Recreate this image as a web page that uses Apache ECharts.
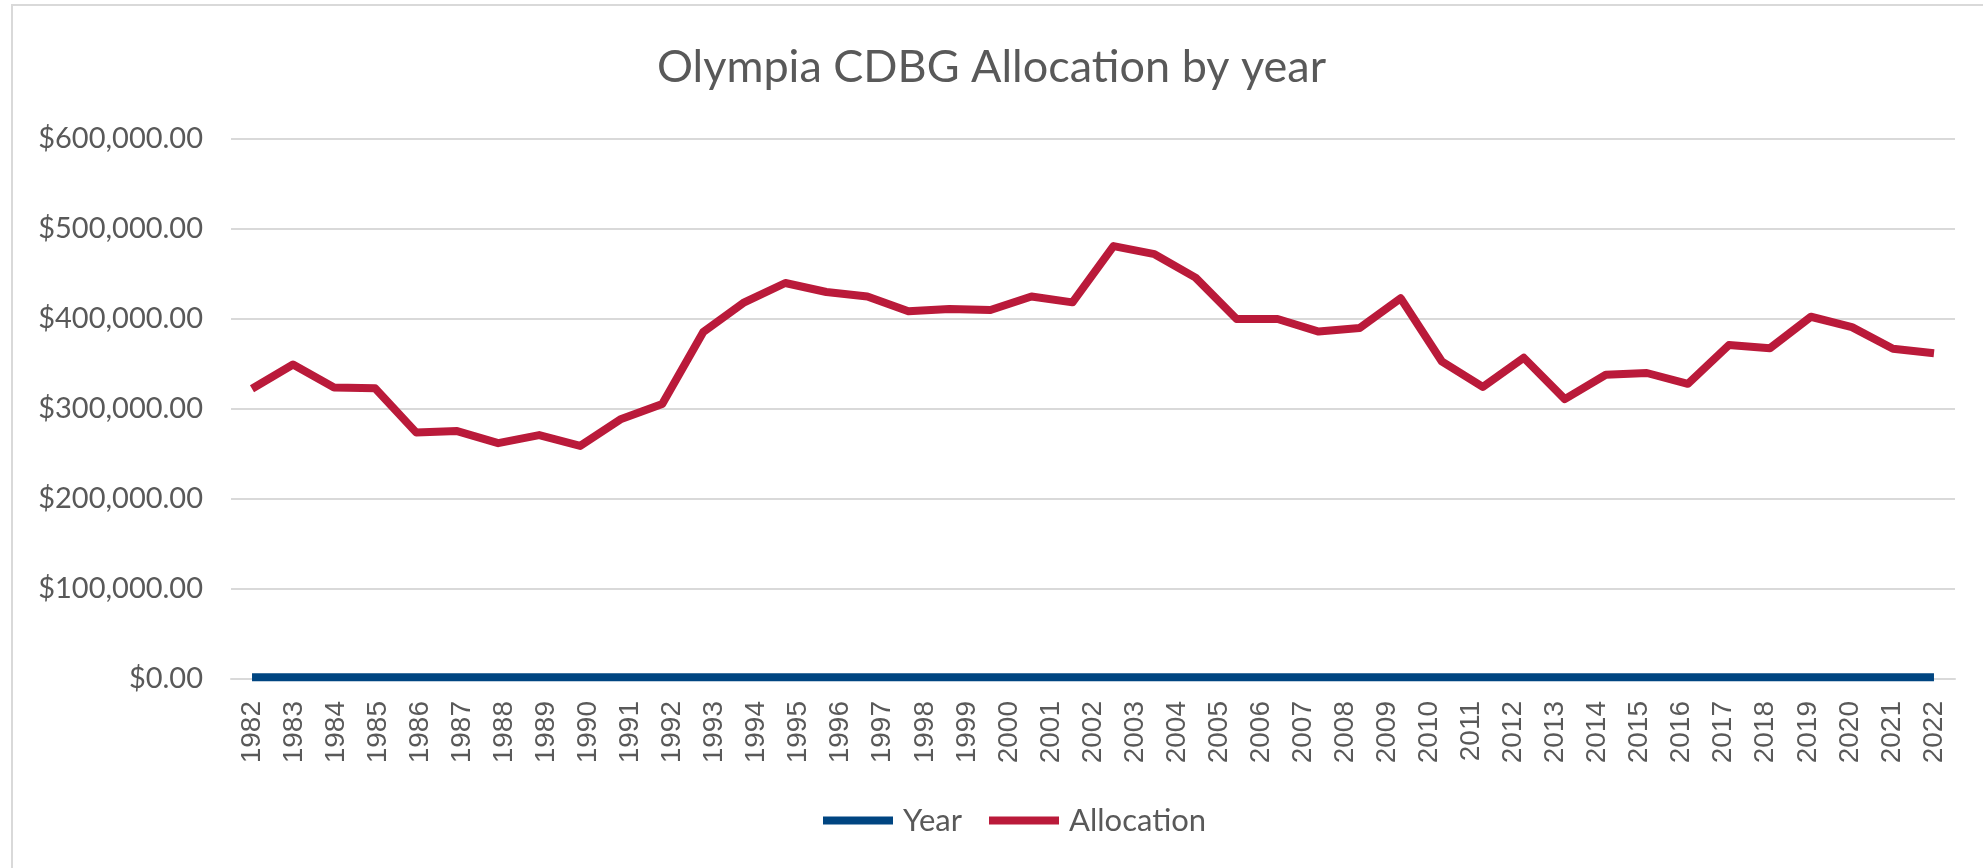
<!DOCTYPE html>
<html>
<head>
<meta charset="utf-8">
<title>Olympia CDBG Allocation by year</title>
<script src="https://cdn.jsdelivr.net/npm/echarts@6/dist/echarts.min.js"></script>
<style>
  html, body { margin: 0; padding: 0; background: #fff; }
  #main { width: 1983px; height: 868px; }
</style>
</head>
<body>
<div id="main"></div>
<script>
// categories on the x axis
const years = [
  1982, 1983, 1984, 1985, 1986, 1987, 1988, 1989, 1990, 1991,
  1992, 1993, 1994, 1995, 1996, 1997, 1998, 1999, 2000, 2001,
  2002, 2003, 2004, 2005, 2006, 2007, 2008, 2009, 2010, 2011,
  2012, 2013, 2014, 2015, 2016, 2017, 2018, 2019, 2020, 2021, 2022
];

// "Year" series: the year itself plotted as a value (sits on $0 at this scale)
const yearValues = years.slice();

// "Allocation" series, dollars.
// In the picture this line has 42 vertices spread evenly from the first
// to the last year position, so it runs on its own hidden category axis.
const allocation = [
  322500, 349500, 324000, 323000, 274000, 275500, 262000, 271000, 259000, 289000,
  305500, 385500, 418500, 440000, 430000, 425000, 408500, 411000, 410000, 425000,
  418500, 481000, 472000, 446000, 400000, 400000, 386000, 390000, 423000, 353000,
  324500, 357000, 311000, 338000, 340000, 328000, 371000, 367500, 402500, 391000,
  367000, 362000
];
const allocationSlots = allocation.map(function (v, i) { return String(i + 1); });

// y axis ticks
const yTicks = [0, 100000, 200000, 300000, 400000, 500000, 600000];

const textGrey = '#595959';
const gridGrey = '#D9D9D9';

function money (v) {
  return '$' + v.toLocaleString('en-US', { minimumFractionDigits: 2, maximumFractionDigits: 2 });
}

const chart = echarts.init(document.getElementById('main'));

const option = {
  backgroundColor: '#fff',
  animation: false,
  graphic: [
    {
      // chart-area border (only top and left fall inside the picture)
      type: 'rect',
      shape: { x: 12, y: 5, width: 2100, height: 1000 },
      style: { fill: 'none', stroke: gridGrey, lineWidth: 2 },
      silent: true
    }
  ],
  title: {
    text: 'Olympia CDBG Allocation by year',
    left: 'center',
    top: 40,
    textStyle: {
      fontFamily: 'Lato',
      fontWeight: 'normal',
      fontSize: 45,
      color: textGrey
    }
  },
  legend: {
    data: ['Year', 'Allocation'],
    bottom: 27,
    left: 818,
    icon: 'rect',
    itemWidth: 70,
    itemHeight: 8,
    itemGap: 27,
    textStyle: {
      fontFamily: 'Lato',
      fontSize: 31,
      color: textGrey,
      padding: [0, 0, 0, 5]
    }
  },
  grid: [
    { left: 231, right: 28, top: 139, bottom: 189, containLabel: false },
    // same plot band, but from the first to the last year position
    { left: 252, right: 49, top: 139, bottom: 189, containLabel: false }
  ],
  xAxis: [
    {
      type: 'category',
      gridIndex: 0,
      data: years,
      boundaryGap: true,
      axisLine: { show: true, lineStyle: { color: gridGrey, width: 2 } },
      axisTick: { show: false },
      axisLabel: {
        interval: 0,
        rotate: 90,
        margin: 22,
        fontFamily: 'Liberation Sans',
        fontSize: 28,
        color: textGrey
      },
      splitLine: { show: false }
    },
    {
      type: 'category',
      gridIndex: 1,
      data: allocationSlots,
      boundaryGap: false,
      show: false
    }
  ],
  yAxis: [
    {
      type: 'value',
      gridIndex: 0,
      min: yTicks[0],
      max: yTicks[yTicks.length - 1],
      interval: 100000,
      axisLine: { show: false },
      axisTick: { show: false },
      axisLabel: {
        margin: 28,
        fontFamily: 'Lato',
        fontSize: 29,
        color: textGrey,
        formatter: money
      },
      splitLine: { show: true, lineStyle: { color: gridGrey, width: 2 } }
    },
    {
      type: 'value',
      gridIndex: 1,
      min: yTicks[0],
      max: yTicks[yTicks.length - 1],
      interval: 100000,
      show: false,
      splitLine: { show: false }
    }
  ],
  series: [
    {
      name: 'Year',
      type: 'line',
      xAxisIndex: 0,
      yAxisIndex: 0,
      data: yearValues,
      symbol: 'none',
      lineStyle: { color: '#004581', width: 8, cap: 'butt', join: 'round' },
      itemStyle: { color: '#004581' }
    },
    {
      name: 'Allocation',
      type: 'line',
      xAxisIndex: 1,
      yAxisIndex: 1,
      data: allocation,
      symbol: 'none',
      lineStyle: { color: '#BA1A3A', width: 8, cap: 'butt', join: 'round' },
      itemStyle: { color: '#BA1A3A' }
    }
  ]
};

chart.setOption(option);
</script>
</body>
</html>
